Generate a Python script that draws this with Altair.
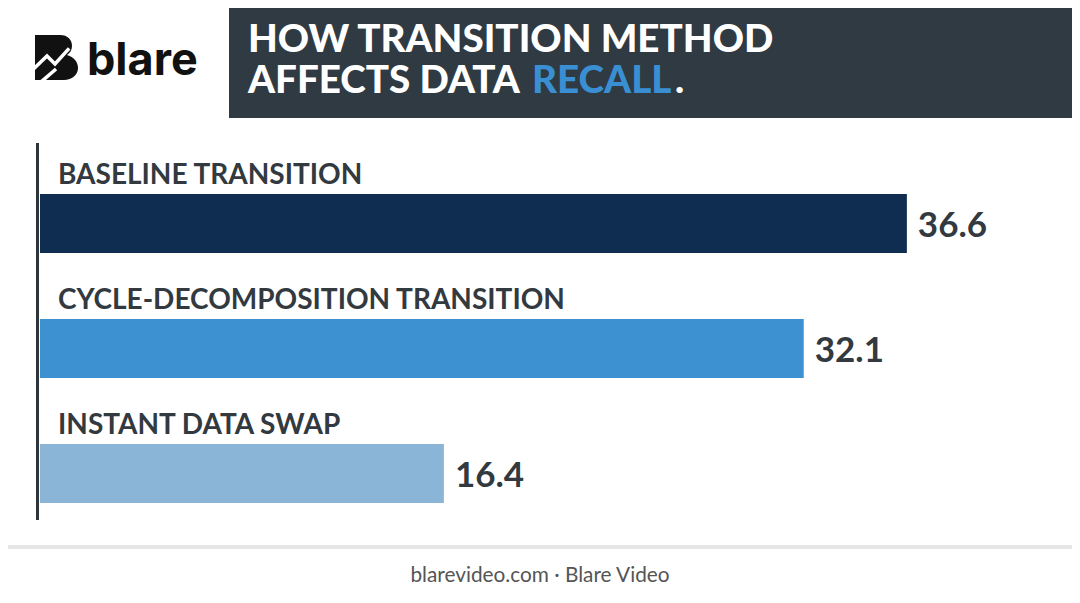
import altair as alt
import pandas as pd

# ---- data ----
methods = ["BASELINE TRANSITION", "CYCLE-DECOMPOSITION TRANSITION", "INSTANT DATA SWAP"]
recall = [36.6, 32.1, 16.4]
bar_colors = ["#0e2d50", "#3d91d1", "#8ab5d7"]
title_line1 = "HOW TRANSITION METHOD"
title_line2a = "AFFECTS DATA "
title_line2b = "RECALL"
title_line2c = "."
brand = "blare"
footer = "blarevideo.com \u00b7 Blare Video"

df = pd.DataFrame({"method": methods, "recall": recall,
                   "label": [f"{v:.1f}" for v in recall]})
one = pd.DataFrame({"k": [0]})

W, H = 1064, 587
DARK = "#2f3a43"
TEXT = "#32393f"

# ---- decorations ----
banner = alt.Chart(one).mark_rect(color=DARK).encode(
    x=alt.value(221), x2=alt.value(W), y=alt.value(0), y2=alt.value(110))

def ttext(txt, x, y, color="#ffffff"):
    return alt.Chart(one).mark_text(
        text=txt, align="left", baseline="alphabetic", font="Lato",
        fontWeight=900, fontSize=38.6, color=color).encode(
        x=alt.value(x), y=alt.value(y))

t1 = ttext(title_line1, 240, 44)
t2a = ttext(title_line2a, 240, 85)
t2b = ttext(title_line2b, 524, 85, "#3a8fd3")
t2c = ttext(title_line2c, 667, 85)

logo_path = ("M-0.935,-0.978 L0.152,-0.978 C0.5,-0.978 0.674,-0.761 0.674,-0.5 "
             "C0.674,-0.326 0.587,-0.196 0.457,-0.109 C0.761,-0.022 0.935,0.196 0.935,0.457 "
             "C0.935,0.761 0.674,0.978 0.326,0.978 L-0.935,0.978 Z")
zig_path = "M-1.0,0.5 L-0.413,-0.065 L-0.065,0.283 L0.55,-0.4 M-0.72,1.1 L-0.02,0.5"

logo = alt.Chart(one).mark_point(shape=logo_path, filled=True, color="#111111",
                                 opacity=1, size=2116).encode(
    x=alt.value(48.5), y=alt.value(49.5))
zig = alt.Chart(one).mark_point(shape=zig_path, filled=False, stroke="#ffffff",
                                strokeWidth=3.5, opacity=1, size=2116).encode(
    x=alt.value(48.5), y=alt.value(49.5))
brand_txt = alt.Chart(one).mark_text(
    text=brand, align="left", baseline="alphabetic", font="Inter",
    fontWeight="bold", fontSize=45, color="#111111").encode(
    x=alt.value(79), y=alt.value(67))

axis_line = alt.Chart(one).mark_rule(color="#2d343a", strokeWidth=3).encode(
    x=alt.value(29.5), y=alt.value(135), y2=alt.value(512))

footer_line = alt.Chart(one).mark_rule(color="#e6e6e6", strokeWidth=4).encode(
    x=alt.value(-10), x2=alt.value(W + 10), y=alt.value(539))
footer_txt = alt.Chart(one).mark_text(
    text=footer, align="center", baseline="alphabetic", font="Lato",
    fontSize=20.8, color="#555555").encode(x=alt.value(532), y=alt.value(574))

# ---- data marks ----
yscale = alt.Scale(domain=methods, range=[186, 495], paddingInner=0.528, paddingOuter=0)
X0 = 60
XK = 22.92
xscale = alt.Scale(domain=[0, 40], range=[X0, X0 + 40 * XK])
bar_start = -(X0 - 32) / XK  # left edge of the bars, at the axis line

base = alt.Chart(df)
bars = base.mark_bar().encode(
    x=alt.X("recall:Q", scale=xscale, axis=None),
    x2=alt.datum(bar_start),
    y=alt.Y("method:N", scale=yscale, axis=None),
    color=alt.Color("method:N", scale=alt.Scale(domain=methods, range=bar_colors), legend=None),
)
cat_labels = base.mark_text(align="left", baseline="alphabetic", dy=-39.5,
                            font="Lato", fontWeight="bold", fontSize=28,
                            color=TEXT).encode(
    x=alt.value(50), y=alt.Y("method:N", scale=yscale, axis=None), text="method:N")
val_labels = base.mark_text(align="left", baseline="alphabetic", dx=11, dy=13.5,
                            font="Lato", fontWeight="bold", fontSize=35,
                            color=TEXT).encode(
    x=alt.X("recall:Q", scale=xscale, axis=None),
    y=alt.Y("method:N", scale=yscale, axis=None), text="label:N")

chart = alt.layer(
    banner, t1, t2a, t2b, t2c, logo, zig, brand_txt, axis_line,
    bars, cat_labels, val_labels, footer_line, footer_txt
).properties(
    width=W, height=H, autosize=alt.AutoSizeParams(type="none"), padding=0,
    background="#ffffff"
).configure_view(stroke=None)

chart.save("out.html", embed_options={"renderer": "svg", "actions": False})
